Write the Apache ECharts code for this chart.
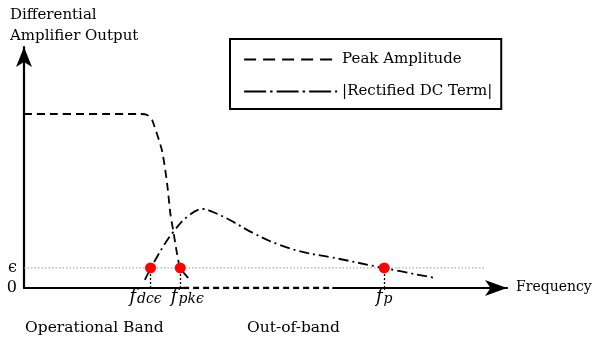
<!DOCTYPE html>
<html><head><meta charset="utf-8">
<script src="https://cdn.jsdelivr.net/npm/echarts@6/dist/echarts.min.js"></script>
<style>html,body{margin:0;padding:0;background:#fff}#c{width:595px;height:341px}</style>
</head><body><div id="c"></div>
<script>
// ---- data ----
const peakX = [0, 24.6, 26.1, 27.1, 27.4, 29.2, 30.3, 31.0, 31.7, 32.4, 33.1, 34.8, 35.2];
const peakY = [75.3, 75.3, 74.9, 72.7, 71.3, 59.7, 45.4, 32.3, 23.7, 15.0, 8.7, 4.2, 2.6];
const dcX = [25.6, 26.9, 29.4, 31.6, 34.5, 37.9, 40.0, 43.6, 48.5, 54.2, 59.9, 64.8, 76.1, 87.1];
const dcY = [3.5, 8.7, 17.7, 24.2, 30.7, 34.2, 32.9, 29.4, 23.8, 18.6, 15.2, 13.4, 8.7, 4.3];
const epsilon = 8.7;
const crossX = [26.8, 33.1, 76.3];
const crossSub = ['dcϵ', 'pkϵ', 'p'];
const zeroSegX = [33.7, 65.3];
const epsLineX = [0, 97.7];
const yTickValues = [0, epsilon];
const yTickLabels = ['0', 'ϵ'];
const seriesNames = ['Peak Amplitude', '|Rectified DC Term|'];
const xMax = 102.3, yMax = 104.3;

const FONT = 'DejaVu Serif';
const zip = (a, b) => a.map((v, i) => [v, b[i]]);
const hidden = {opacity: 0, color: 'rgba(0,0,0,0)', borderWidth: 0};
// small horizontal label nudges (px) so the subscripted labels sit as in the reference
const labelShift = [-5, 7, 0];

const chart = echarts.init(document.getElementById('c'), null, {renderer: 'canvas'});
chart.setOption({
  animation: false,
  backgroundColor: '#fff',
  grid: {left: 24, right: 88, top: 47, bottom: 53},
  xAxis: {
    type: 'value', min: 0, max: xMax,
    axisLine: {show: true, onZero: false, lineStyle: {color: '#000', width: 2.2},
      symbol: ['none', 'arrow'], symbolSize: [12, 22]},
    axisTick: {show: false}, splitLine: {show: false},
    axisLabel: {show: false}
  },
  yAxis: {
    type: 'value', min: 0, max: yMax,
    axisLine: {show: true, onZero: false, lineStyle: {color: '#000', width: 2.2},
      symbol: ['none', 'arrow'], symbolSize: [12, 20]},
    axisTick: {show: false}, splitLine: {show: false},
    axisLabel: {
      customValues: yTickValues, margin: 7,
      fontFamily: FONT, fontSize: 16, color: '#000',
      formatter: v => {
        const i = yTickValues.findIndex(c => Math.abs(c - v) < 1e-6);
        return i < 0 ? '' : yTickLabels[i];
      }
    }
  },
  legend: {
    data: [
      {name: seriesNames[0], lineStyle: {type: [12, 7], width: 2.2, color: '#000'}, itemStyle: hidden},
      {name: seriesNames[1], lineStyle: {type: [22, 4, 2.5, 4], width: 2.2, color: '#000'}, itemStyle: hidden}
    ],
    itemStyle: hidden,
    orient: 'vertical', left: 230, top: 39,
    itemWidth: 93, itemHeight: 14, itemGap: 17,
    padding: [13, 9, 10, 13],
    borderColor: '#000', borderWidth: 2,
    selectedMode: false,
    textStyle: {fontFamily: FONT, fontSize: 15, color: '#000'}
  },
  graphic: [
    {type: 'text', left: 10, top: 5, style: {text: 'Differential\nAmplifier Output', font: '15px "DejaVu Serif"', fill: '#000', lineHeight: 21}},
    {type: 'text', x: 516, y: 287.5, style: {text: 'Frequency', font: '14px "DejaVu Serif"', fill: '#000', verticalAlign: 'middle'}},
    {type: 'text', x: 25, y: 327.5, style: {text: 'Operational Band', font: '15.5px "DejaVu Serif"', fill: '#000', verticalAlign: 'middle'}},
    {type: 'text', x: 247, y: 327.5, style: {text: 'Out-of-band', font: '15.5px "DejaVu Serif"', fill: '#000', verticalAlign: 'middle'}}
  ],
  series: [
    {name: 'epsLine', type: 'line', data: epsLineX.map(x => [x, epsilon]), symbol: 'none', silent: true, z: 1,
      lineStyle: {color: '#999', width: 1, type: [1.5, 2]}},
    {name: seriesNames[0], type: 'line', data: zip(peakX, peakY), symbol: 'none', smooth: 0.25, z: 3,
      itemStyle: {color: '#000'},
      lineStyle: {color: '#000', width: 1.8, type: [8, 5]}},
    {name: seriesNames[1], type: 'line', data: zip(dcX, dcY), symbol: 'none', smooth: 0.4, z: 3,
      itemStyle: {color: '#000'},
      lineStyle: {color: '#000', width: 1.8, type: [10, 4, 2, 4]}},
    {name: 'axisGap', type: 'line', data: zeroSegX.map(x => [x, 0]), symbol: 'none', silent: true, z: 2,
      lineStyle: {color: '#fff', width: 4, cap: 'butt'}},
    {name: 'zeroDash', type: 'line', data: zeroSegX.map(x => [x, 0]), symbol: 'none', silent: true, z: 3,
      lineStyle: {color: '#000', width: 2.3, type: [6, 4], cap: 'butt'}},
    {name: 'crossings', type: 'scatter', symbol: 'circle', symbolSize: 11, z: 5,
      data: crossX.map(x => [x, epsilon]),
      itemStyle: {color: '#ff0000', opacity: 1},
      label: {
        show: true, position: 'bottom', distance: 15,
        formatter: p => '{f|f}{s|' + crossSub[p.dataIndex] + '}',
        rich: {
          f: {fontFamily: FONT, fontStyle: 'italic', fontSize: 18, color: '#000', verticalAlign: 'top', lineHeight: 18},
          s: {fontFamily: FONT, fontStyle: 'italic', fontSize: 14, color: '#000', verticalAlign: 'bottom', lineHeight: 14, padding: [9, 0, 0, 1]}
        }
      },
      labelLayout: p => ({dx: labelShift[p.dataIndex], hideOverlap: false}),
      markLine: {symbol: 'none', silent: true, label: {show: false},
        lineStyle: {color: '#000', width: 1.3, type: [2, 2]},
        data: crossX.map(x => [{coord: [x, 0]}, {coord: [x, epsilon]}])}}
  ]
});
</script></body></html>
